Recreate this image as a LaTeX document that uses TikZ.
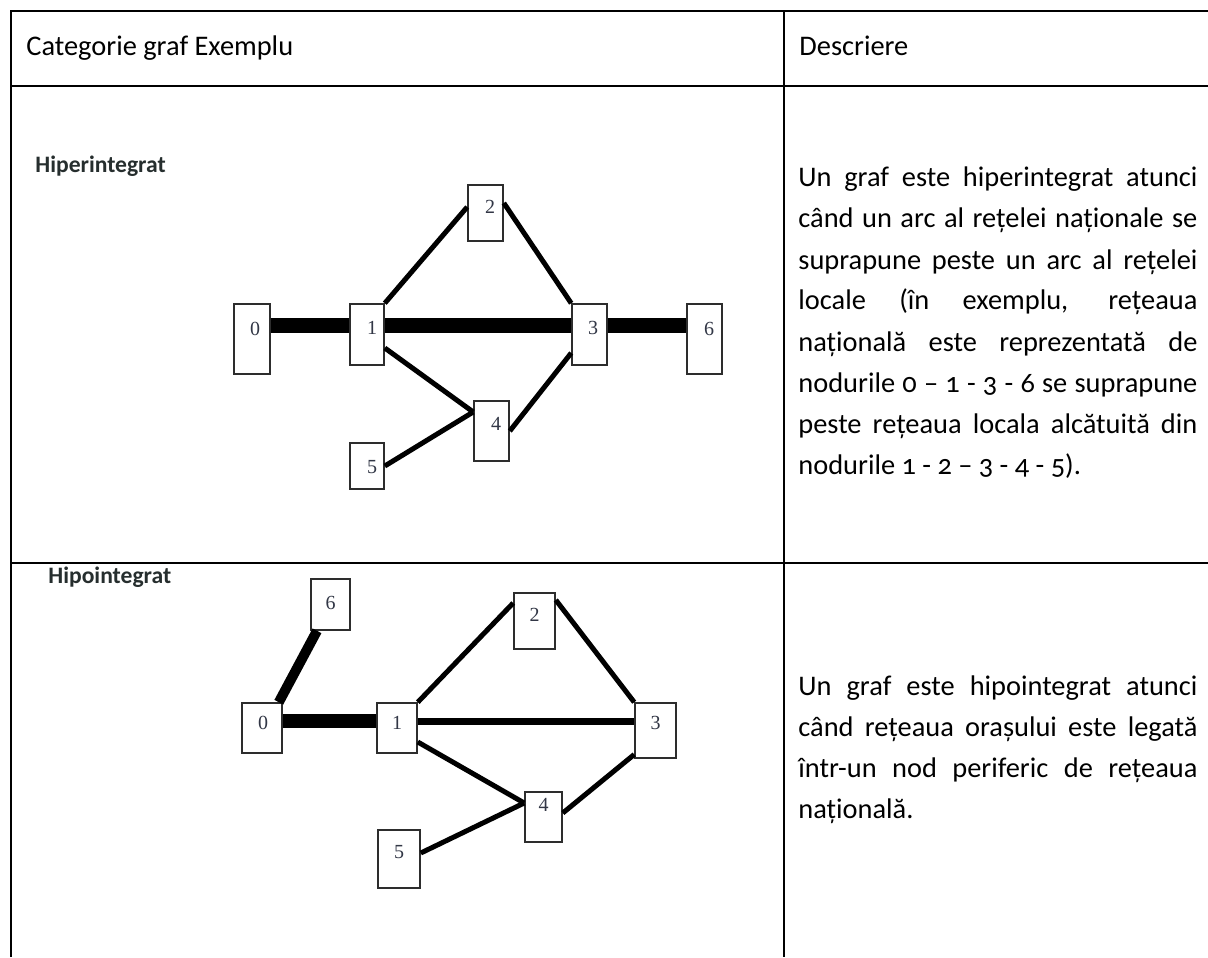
\documentclass[tikz,border=0pt]{standalone}
\usepackage{fontspec}
\setmainfont{Carlito}
\newfontfamily\descfont[Numbers=OldStyle]{Carlito}
\newfontfamily\numfont{Liberation Serif}
\definecolor{tagcol}{RGB}{38,46,46}
\definecolor{digcol}{RGB}{50,55,70}
\definecolor{boxcol}{RGB}{45,45,45}
\begin{document}
\begin{tikzpicture}[x=0.5pt,y=-0.5pt,
  tbl/.style={line width=1.3pt,black},
  gbox/.style={draw=boxcol,line width=0.8pt,fill=white,inner sep=0pt},
  glabel/.style={inner sep=0pt,font=\numfont\fontsize{10}{12}\selectfont,text=digcol},
  thinedge/.style={line width=2.5pt,black},
  thickedge/.style={line width=7.5pt,black},
  hdr/.style={anchor=base west,inner sep=0pt,font=\fontsize{14.2}{17}\selectfont},
  tag/.style={anchor=base west,inner sep=0pt,font=\bfseries\fontsize{11.8}{13}\selectfont,text=tagcol},
  desc/.style={anchor=base west,inner sep=0pt,text width=199.5pt,align=justify,
    font=\descfont\fontsize{14.2}{20.5}\selectfont}
]
\useasboundingbox[fill=white] (0,0) rectangle (1208,957);

% table rules
\draw[tbl] (11,957) -- (11,11) -- (1208,11);
\draw[tbl] (11,86) -- (1208,86);
\draw[tbl] (11,563) -- (1208,563);
\draw[tbl] (784,11) -- (784,957);

% header texts
\node[hdr] (h1) at (26,56) {Categorie graf Exemplu};
\node[hdr] (h2) at (799,56) {Descriere};

% ---------- top graph ----------
\node[tag] (tagA) at (35,173) {Hiperintegrat};
\coordinate (hlA) at (0,325);
\node[gbox,minimum width=18pt,minimum height=35pt,label={[glabel,xshift=1.5pt,yshift=5pt]center:0}] (t0) at (252,339) {};
\node[gbox,minimum width=17pt,minimum height=30.5pt,label={[glabel,xshift=2.5pt,yshift=3.25pt]center:1}] (t1) at (367,334.5) {};
\node[gbox,minimum width=17.5pt,minimum height=28pt,label={[glabel,xshift=2.25pt,yshift=3pt]center:2}] (t2) at (485.5,213) {};
\node[gbox,minimum width=17.5pt,minimum height=30.5pt,label={[glabel,xshift=1.75pt,yshift=3.25pt]center:3}] (t3) at (589.5,334.5) {};
\node[gbox,minimum width=17.5pt,minimum height=35pt,label={[glabel,xshift=2.25pt,yshift=5pt]center:6}] (t6) at (704.5,339) {};
\node[gbox,minimum width=17.5pt,minimum height=30pt,label={[glabel,xshift=2.25pt,yshift=3.5pt]center:4}] (t4) at (491.5,431) {};
\node[gbox,minimum width=17pt,minimum height=23pt,label={[glabel,xshift=2.5pt,yshift=-0.5pt]center:5}] (t5) at (367,466) {};

\draw[thickedge] (t0.east |- hlA) -- (t1.west |- hlA);
\draw[thickedge] (t1.east |- hlA) -- (t3.west |- hlA);
\draw[thickedge] (t3.east |- hlA) -- (t6.west |- hlA);
\draw[thinedge] (t1.north east) -- ([yshift=3pt]t2.west);
\draw[thinedge] ([yshift=5pt]t2.east) -- (t3.north west);
\draw[thinedge] ([yshift=-6.75pt]t1.east) -- ([yshift=9.5pt]t4.west);
\draw[thinedge] ([yshift=-9.25pt]t3.west) -- (t4.east);
\draw[thinedge] (t5.east) -- ([yshift=9.5pt]t4.west);

\node[desc] (dA) at (798,187) {Un graf este hiperintegrat atunci\linebreak
când un arc al rețelei naționale se\linebreak
suprapune peste un arc al rețelei\linebreak
locale (în exemplu, rețeaua\linebreak
națională este reprezentată de\linebreak
nodurile 0 – 1 - 3 - 6 se suprapune\linebreak
peste rețeaua locala alcătuită din\linebreak
nodurile 1 - 2 – 3 - 4 - 5).};

% ---------- bottom graph ----------
\node[tag] (tagB) at (48,583) {Hipointegrat};
\coordinate (hlB) at (0,721);
\node[gbox,minimum width=19.5pt,minimum height=25.5pt,label={[glabel,yshift=0.75pt]center:6}] (b6) at (330.5,604.5) {};
\node[gbox,minimum width=20.5pt,minimum height=28pt,label={[glabel,yshift=3pt]center:2}] (b2) at (534.5,621) {};
\node[gbox,minimum width=20pt,minimum height=25pt,label={[glabel,xshift=0.5pt,yshift=2.5pt]center:0}] (b0) at (262,728) {};
\node[gbox,minimum width=20pt,minimum height=25pt,label={[glabel,yshift=2.5pt]center:1}] (b1) at (397,728) {};
\node[gbox,minimum width=20.5pt,minimum height=27.5pt,label={[glabel,yshift=3.75pt]center:3}] (b3) at (655.5,730.5) {};
\node[gbox,minimum width=18.5pt,minimum height=25pt,label={[glabel,yshift=6pt]center:4}] (b4) at (543.5,817) {};
\node[gbox,minimum width=21pt,minimum height=29pt,label={[glabel,yshift=3.5pt]center:5}] (b5) at (399,859) {};

\draw[line width=5pt] ([xshift=-2pt]b0.north east) -- ([xshift=-6.75pt]b6.south);
\draw[line width=7pt] (b0.east |- hlB) -- (b1.west |- hlB);
\draw[line width=3.5pt] (b1.east |- hlB) -- (b3.west |- hlB);
\draw[thinedge] (b1.north east) -- ([yshift=9pt]b2.west);
\draw[thinedge] ([yshift=10.5pt]b2.east) -- (b3.north west);
\draw[thinedge] ([yshift=-7pt]b1.east) -- ([yshift=7pt]b4.west);
\draw[thinedge] ([yshift=-12pt]b3.west) -- ([yshift=2pt]b4.east);
\draw[thinedge] ([yshift=3pt]b5.east) -- ([yshift=7pt]b4.west);

\node[desc] (dB) at (798,695) {Un graf este hipointegrat atunci\linebreak
când rețeaua orașului este legată\linebreak
într-un nod periferic de rețeaua\linebreak
națională.};
\end{tikzpicture}
\end{document}
